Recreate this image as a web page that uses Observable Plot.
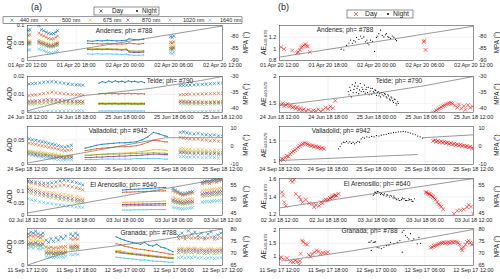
<!DOCTYPE html>
<html><head><meta charset="utf-8">
<script src="https://cdn.jsdelivr.net/npm/d3@7"></script>
<script src="https://cdn.jsdelivr.net/npm/@observablehq/plot@0.6"></script>
<style>
body{margin:0;background:#fff;}
#fig{position:relative;width:500px;height:279px;overflow:hidden;font-family:"Liberation Sans",Arial,sans-serif;}
#fig svg{position:absolute;}
</style></head><body><div id="fig"></div>
<script>
// ---------------- categories / ticks ----------------
const wavelengths = ["440 nm","500 nm","675 nm","870 nm","1020 nm","1640 nm"];
const hourTicks = [0,6,12,18,24];

// ---------------- Andenes ----------------
const andenesXTicks = ["01 Apr 20 12:00","01 Apr 20 18:00","02 Apr 20 00:00","02 Apr 20 06:00","02 Apr 20 12:00"];
const andenesDayA_t = [0.1,0.3,1.4,1.7,2.0,2.3,2.6,2.9,3.2,3.5,3.7];
const andenesDayA_aod = [
 [.086,.088,.1,.088,.085,.081,.078,.076,.077,.081,.085],
 [.072,.074,.078,.073,.070,.066,.063,.061,.062,.066,.070],
 [.055,.056,.058,.055,.053,.05,.048,.046,.047,.05,.053],
 [.05,.051,.053,.05,.048,.045,.043,.042,.043,.046,.048],
 [.046,.047,.049,.046,.044,.041,.039,.038,.039,.042,.044],
 [.03,.031,.032,.03,.028,.025,.023,.021,.022,.025,.028]];
const andenesNight_t = [7.4,8,8.6,9.2,9.8,10.4,11,11.6,12.2,12.5,13.1,13.7,14.3];
const andenesNight_aod = [
 [.056,.055,.057,.056,.058,.057,.056,.057,.058,.062,.06,.059,.061],
 [.049,.048,.048,.047,.049,.048,.047,.047,.048,.05,.048,.047,.049],
 [.034,.033,.034,.033,.034,.033,.033,.032,.033,.027,.026,.025,.026],
 [.032,.031,.032,.031,.032,.031,.031,.03,.031,.024,.023,.023,.024],
 [.033,.032,.033,.032,.033,.032,.032,.031,.032,.028,.027,.027,.028],
 [.019,.018,.019,.018,.019,.018,.018,.017,.018,.016,.015,.015,.016]];
const andenesDayB_t = [17.6,17.8,18.0];
const andenesDayB_aod = [[.068,.066,.07],[.052,.05,.053],[.04,.038,.041],[.035,.033,.036],[.033,.031,.034],[.022,.02,.023]];
const andenesAeDay_t = [0.2,0.55,1.57,2.19,2.31,2.52,2.68,2.81,3.01,3.22,3.34,3.5,3.75,17.86,17.9,18.07];
const andenesAeDay = [1.03,0.995,0.97,0.93,0.945,0.98,1.02,1.04,1.06,1.08,1.05,1.04,0.945,1.12,1.14,0.98];
const andenesAeNight_t = [7.63,7.96,8.3,8.58,8.79,9.0,9.2,9.4,9.53,9.82,10.02,10.2,10.43,10.64,10.8,10.93,11.06,11.26,11.5,11.76,12.0,12.15,12.29,12.5,12.71,12.91,13.1,13.24,13.4,13.53,13.75,13.95,14.15,14.36,14.48];
const andenesAeNight = [0.995,0.98,1.06,1.1,1.15,1.095,1.14,1.12,1.195,1.16,1.22,1.18,1.205,1.12,1.15,1.095,1.07,1.15,1.13,0.955,1.195,1.22,1.26,1.32,1.23,1.205,1.24,1.26,1.21,1.195,1.18,1.22,1.2,1.16,1.14];
const andenesMpaL_t = [0,12,24], andenesMpaL = [-88.8,-82.3,-75.7];
const andenesMpaR_t = [0,12,24], andenesMpaR = [-88.6,-82.2,-75.8];

// ---------------- Teide ----------------
const teideXTicks = ["24 Jun 18 12:00","24 Jun 18 18:00","25 Jun 18 00:00","25 Jun 18 06:00","25 Jun 18 12:00"];
const teideDayA_t = [0.2,0.6,1.0,1.5,2.0,2.5,3.0,3.5,4.0,4.5,5.0,5.5,6.0,6.4,6.8];
const teideDayA_aod = [
 [.0158,.016,.0162,.0165,.0168,.017,.0172,.017,.0166,.0162,.0159,.0156,.0154,.0153,.0152],
 [.0094,.0096,.0098,.0102,.0106,.011,.0113,.011,.0107,.0104,.0102,.01,.0099,.0099,.0098],
 [.0055,.0056,.0057,.0058,.006,.0062,.0063,.0062,.006,.0059,.0058,.0057,.0057,.0058,.0058],
 [.0062,.0063,.0064,.0066,.0069,.0071,.0072,.0071,.0069,.0067,.0065,.0063,.0062,.0062,.0061],
 [.0046,.0047,.0048,.005,.0052,.0054,.0055,.0054,.0052,.0051,.005,.0049,.0049,.005,.005],
 [.0002,.0002,.0003,.0004,.0005,.0006,.0007,.0007,.0008,.0008,.0009,.0009,.0009,.001,.001]];
const teideNight_t = [8.8,9.2,9.6,10,10.4,10.8,11.2,11.6,12,12.4,12.8,13.2,13.6,14,14.4];
const teideNight_aod = [
 [.0163,.0172,.0166,.0175,.0168,.0176,.017,.0174,.0167,.0176,.017,.0174,.0168,.0172,.0166],
 [.0104,.0106,.0103,.0107,.0104,.0106,.0103,.0106,.0104,.0107,.0104,.0106,.0103,.0105,.0103],
 [.0052,.0054,.0051,.0053,.0052,.0054,.0051,.0053,.0052,.0054,.0052,.0053,.0051,.0053,.0052],
 [.0049,.005,.0048,.005,.0049,.005,.0048,.005,.0049,.005,.0048,.0049,.0048,.0049,.0048],
 [.0046,.0047,.0045,.0047,.0046,.0047,.0045,.0046,.0046,.0047,.0045,.0046,.0045,.0046,.0045],
 [.0008,.0009,.0008,.0009,.0008,.0009,.0008,.0009,.0008,.0009,.0008,.0009,.0008,.0009,.0008]];
const teideDayB_t = [18.8,19.2,19.6,20,20.5,21,21.5,22,22.5,23,23.5,24];
const teideDayB_aod = [
 [.015,.0151,.0152,.0153,.0154,.0155,.0156,.0158,.016,.0161,.0163,.0164],
 [.0098,.0099,.01,.0101,.0101,.0102,.0103,.0104,.0105,.0106,.0107,.0107],
 [.0066,.0065,.0064,.0063,.0062,.0062,.0061,.0061,.006,.006,.0061,.0061],
 [.006,.0059,.0058,.0058,.0057,.0057,.0056,.0056,.0056,.0057,.0057,.0058],
 [.0049,.0048,.0048,.0047,.0047,.0047,.0046,.0046,.0047,.0047,.0048,.0048],
 [.0003,.0003,.0004,.0004,.0005,.0005,.0006,.0006,.0007,.0007,.0008,.0008]];
const teideAeDay_t = [0.2,0.4,0.6,0.8,1.0,1.2,1.4,1.6,1.8,2.0,2.2,2.4,2.6,2.8,3.0,3.3,3.6,3.9,4.2,4.5,4.8,5.1,5.4,5.7,6.0,6.3,6.6,6.9,
 19.0,19.2,19.4,19.6,19.8,20.0,20.2,20.4,20.6,20.8,21.0,21.2,21.4,21.7,22.0,22.2,22.5,22.8,23.0,23.3,23.6,23.9];
const teideAeDay = [1.48,1.5,1.45,1.47,1.49,1.44,1.46,1.42,1.44,1.4,1.43,1.38,1.41,1.37,1.39,1.36,1.38,1.35,1.37,1.36,1.39,1.35,1.38,1.42,1.4,1.44,1.41,1.55,
 1.33,1.35,1.37,1.39,1.41,1.43,1.45,1.46,1.48,1.49,1.5,1.51,1.5,1.46,1.42,1.48,1.4,1.45,1.38,1.47,1.42,1.44];
const teideAeNight_t = [8.5,8.6,8.7,8.8,8.9,9.0,9.1,9.2,9.3,9.4,9.5,9.6,9.7,9.8,9.9,10.0,10.1,10.2,10.3,10.4,10.5,10.6,10.7,10.8,10.9,11.0,11.1,11.2,11.3,11.4,11.5,11.6,11.7,11.8,11.9,12.0,12.1,12.2,12.3,12.4,12.5,12.6,12.7,12.8,12.9,13.0,13.1,13.2,13.3,13.4,13.5,13.6,13.7,13.8,13.9,14.0,14.1,14.2,14.3,14.4,14.5,14.6,14.7];
const teideAeNight = [1.72,1.66,1.8,1.74,1.62,1.85,1.7,1.76,1.82,1.88,1.7,1.78,1.82,1.68,1.75,1.87,1.72,1.8,1.76,1.72,1.84,1.69,1.76,1.8,1.7,1.8,1.66,1.73,1.78,1.67,1.78,1.72,1.7,1.75,1.74,1.65,1.7,1.72,1.64,1.68,1.62,1.7,1.66,1.7,1.64,1.68,1.67,1.62,1.6,1.66,1.64,1.58,1.56,1.62,1.6,1.55,1.52,1.58,1.57,1.5,1.47,1.53,1.5];
const teideMpaL_t = [0.1,6.9,15.1,21.3,24], teideMpaL = [-40.9,-36.1,-33.8,-31.3,-30];
const teideMpaR_t = [0,12.1,17.8,24], teideMpaR = [-39.2,-35.3,-33,-30];

// ---------------- Valladolid ----------------
const valladolidXTicks = ["24 Sep 18 12:00","24 Sep 18 18:00","25 Sep 18 00:00","25 Sep 18 06:00","25 Sep 18 12:00"];
const valladolidDayA_t = [0.2,0.6,1.0,1.4,1.8,2.2,2.6,3.0,3.4,3.8,4.2,4.6,5.0,5.4];
const valladolidDayA_aod = [
 [.052,.05,.049,.047,.046,.045,.043,.041,.04,.038,.036,.035,.037,.039],
 [.043,.042,.041,.039,.038,.037,.035,.034,.033,.031,.029,.028,.029,.03],
 [.028,.027,.026,.025,.024,.023,.022,.021,.02,.019,.018,.017,.018,.018],
 [.022,.021,.02,.019,.018,.018,.017,.016,.015,.015,.014,.013,.014,.014],
 [.025,.024,.023,.022,.021,.02,.019,.018,.018,.017,.016,.015,.016,.016],
 [.02,.019,.018,.016,.015,.014,.013,.012,.011,.01,.009,.009,.01,.01]];
const valladolidNight_t = [7.1,7.8,8.5,9.2,9.9,10.6,11.3,12,12.7,13.4,14.1,14.8,15.5,16.2,16.9,17.2];
const valladolidNight_aod = [
 [.033,.036,.039,.041,.042,.043,.044,.044,.045,.046,.05,.056,.065,.062,.058,.057],
 [.028,.03,.032,.033,.034,.035,.036,.036,.037,.038,.041,.045,.049,.048,.046,.046],
 [.018,.019,.02,.021,.022,.022,.023,.023,.024,.025,.026,.028,.03,.03,.029,.028],
 [.014,.014,.015,.015,.016,.016,.017,.017,.018,.018,.019,.02,.021,.021,.02,.02],
 [.019,.019,.02,.02,.021,.021,.021,.022,.022,.022,.023,.023,.024,.023,.023,.022],
 [.01,.01,.01,.011,.011,.011,.011,.011,.011,.012,.012,.012,.012,.012,.011,.011]];
const valladolidDayB_t = [18.8,19.2,19.6,20,20.5,21,21.5,22,22.5,23,23.5,24];
const valladolidDayB_aod = [
 [.065,.066,.064,.063,.062,.063,.061,.06,.059,.06,.058,.057],
 [.055,.054,.053,.052,.051,.052,.05,.049,.048,.049,.047,.046],
 [.032,.032,.031,.031,.03,.031,.03,.029,.029,.03,.029,.028],
 [.024,.024,.023,.023,.022,.023,.022,.022,.021,.022,.021,.021],
 [.027,.027,.026,.026,.025,.026,.025,.025,.024,.025,.024,.024],
 [.016,.016,.015,.015,.015,.015,.014,.014,.014,.014,.013,.013]];
const valladolidAeDay_t = [0.1,0.3,0.5,0.7,0.9,1.1,1.3,1.5,1.7,1.9,2.1,2.3,2.5,2.7,2.9,3.1,3.3,3.5,3.7,3.9,4.1,4.3,4.5,4.7,4.9,5.1,5.3,5.5,
 19.0,19.2,19.4,19.6,19.8,20.0,20.2,20.4,20.6,20.8,21.0,21.2,21.4,21.6,21.8,22.0,22.2,22.4,22.6,22.8,23.0,23.2,23.4,23.6,23.8,24.0];
const valladolidAeDay = [1.03,1.07,1.05,1.1,1.14,1.12,1.18,1.22,1.25,1.28,1.31,1.35,1.38,1.41,1.43,1.45,1.44,1.42,1.4,1.38,1.39,1.36,1.37,1.34,1.35,1.32,1.33,1.31,
 1.5,1.52,1.48,1.5,1.47,1.49,1.46,1.48,1.45,1.46,1.43,1.45,1.42,1.43,1.4,1.42,1.39,1.41,1.38,1.39,1.36,1.38,1.35,1.36,1.33,1.32];
const valladolidAeNight_t = [7.3,7.5,7.7,7.9,8.1,8.3,8.5,8.7,8.9,9.1,9.3,9.5,9.7,9.9,10.1,10.3,10.5,10.8,11.1,11.4,11.7,12.0,12.3,12.6,12.9,13.2,13.5,13.8,14.1,14.4,14.7,15.0,15.3,15.6,15.9,16.2,16.5,16.8,17.1,17.4,17.7];
const valladolidAeNight = [1.31,1.37,1.43,1.47,1.46,1.49,1.45,1.48,1.44,1.47,1.43,1.46,1.49,1.47,1.55,1.59,1.57,1.6,1.59,1.61,1.6,1.63,1.62,1.64,1.65,1.66,1.68,1.69,1.7,1.71,1.72,1.72,1.73,1.72,1.71,1.69,1.67,1.65,1.62,1.6,1.57];
const valladolidMpaL_t = [0.1,17,24], valladolidMpaL = [-9.1,4.8,4.8];
const valladolidMpaR_t = [0,17.1,17.8,24], valladolidMpaR = [-7.8,-4.5,4.8,6.4];
const valladolidMpaR_seg = [0,0,1,1];

// ---------------- El Arenosillo ----------------
const arenosilloXTicks = ["02 Jul 18 12:00","02 Jul 18 18:00","03 Jul 18 00:00","03 Jul 18 06:00","03 Jul 18 12:00"];
const arenosilloDayA_t = [0.1,0.5,1,1.5,2,2.5,3,3.5,4,4.5,5,5.5,6,6.4,6.8];
const arenosilloDayA_aod = [
 [.145,.142,.14,.138,.136,.135,.137,.14,.145,.148,.146,.142,.138,.133,.128],
 [.14,.136,.132,.128,.125,.122,.12,.122,.125,.127,.124,.12,.116,.112,.108],
 [.12,.115,.11,.105,.1,.097,.094,.092,.09,.088,.085,.082,.079,.076,.073],
 [.11,.105,.1,.095,.091,.088,.085,.082,.079,.076,.073,.07,.067,.065,.063],
 [.098,.093,.089,.085,.081,.078,.075,.072,.069,.066,.063,.061,.058,.056,.055],
 [.07,.066,.062,.058,.055,.052,.049,.046,.044,.042,.04,.038,.036,.035,.034]];
const arenosilloNight_t = [11.7,12.2,12.7,13.2,13.7,14.2,14.7,15.2,15.7,16.2,16.7,17.0];
const arenosilloNight_aod = [
 [.107,.108,.109,.11,.111,.112,.113,.114,.115,.116,.117,.117],
 [.097,.098,.098,.099,.1,.1,.101,.101,.102,.103,.103,.104],
 [.055,.055,.056,.056,.057,.057,.058,.058,.059,.059,.06,.06],
 [.046,.046,.047,.047,.047,.048,.048,.048,.049,.049,.049,.05],
 [.04,.04,.041,.041,.041,.042,.042,.042,.042,.043,.043,.043],
 [.023,.023,.023,.024,.024,.024,.024,.025,.025,.025,.025,.025]];
const arenosilloDayB_t = [17.9,18.2,18.5,18.8,19.1,19.4,19.7,20.0,20.3];
const arenosilloDayB_aod = [
 [.112,.106,.1,.094,.091,.092,.095,.098,.1],
 [.104,.099,.094,.089,.086,.087,.09,.092,.094],
 [.075,.072,.069,.066,.064,.065,.067,.069,.07],
 [.064,.061,.058,.056,.054,.055,.057,.058,.059],
 [.057,.054,.052,.05,.048,.049,.05,.051,.052],
 [.034,.032,.031,.029,.028,.029,.03,.031,.032]];
const arenosilloDayC_t = [21.5,21.8,22.1,22.4,22.7,23.0,23.3,23.6,23.9];
const arenosilloDayC_aod = [
 [.14,.143,.145,.142,.148,.15,.147,.152,.153],
 [.132,.136,.138,.135,.14,.143,.14,.145,.148],
 [.104,.106,.108,.107,.11,.112,.11,.114,.116],
 [.09,.092,.094,.093,.096,.098,.096,.1,.101],
 [.08,.082,.084,.083,.086,.087,.086,.089,.09],
 [.056,.058,.059,.058,.06,.062,.061,.063,.064]];
const arenosilloAeDay_t = [0.29,0.45,0.58,0.79,1.4,1.61,1.82,2.02,2.43,2.64,2.85,3.26,3.67,4.08,4.29,4.5,4.91,5.12,5.32,5.53,5.73,5.9,6.06,6.23,6.35,6.47,6.6,6.76,6.9,7.05,7.3,
 18.07,18.2,18.35,18.48,18.6,18.75,18.89,19.0,19.15,19.3,19.5,19.7,19.85,20.0,20.25,
 21.58,21.99,22.4,22.8,23.2,23.4,23.7,23.96];
const arenosilloAeDay = [1.455,1.417,1.34,1.3,1.59,1.57,1.595,1.436,1.4,1.37,1.34,1.37,1.33,1.32,1.285,1.31,1.3,1.34,1.33,1.36,1.37,1.36,1.37,1.39,1.38,1.4,1.41,1.417,1.42,1.417,1.436,
 1.455,1.45,1.44,1.436,1.43,1.42,1.41,1.4,1.385,1.37,1.34,1.32,1.305,1.29,1.26,
 1.21,1.245,1.25,1.26,1.285,1.31,1.29,1.21];
const arenosilloAeNight_t = [11.6,11.7,11.8,11.9,12.0,12.1,12.2,12.4,12.5,12.6,12.8,12.9,13.0,13.2,13.3,13.4,13.6,13.7,13.85,14.05,14.15,14.26,14.4,14.5,14.7,14.8,14.9,15.1,15.2,15.3,15.5,15.6,15.7,15.9,16.0,16.1,16.3,16.4,16.5,16.7];
const arenosilloAeNight = [1.417,1.43,1.455,1.45,1.44,1.46,1.46,1.45,1.43,1.44,1.43,1.42,1.436,1.41,1.43,1.42,1.4,1.42,1.41,1.39,1.41,1.39,1.38,1.37,1.38,1.36,1.36,1.37,1.39,1.38,1.38,1.36,1.36,1.36,1.38,1.37,1.37,1.35,1.35,1.38];
const arenosilloMpaL_t = [0,24], arenosilloMpaL = [45.2,57.5];
const arenosilloMpaR_t = [0,24], arenosilloMpaR = [47,57.5];

// ---------------- Granada ----------------
const granadaXTicks = ["11 Sep 17 12:00","11 Sep 17 18:00","12 Sep 17 00:00","12 Sep 17 06:00","12 Sep 17 12:00"];
const granadaDayA_t = [0.1,0.4,0.7,1.0,1.3,1.6,1.9,2.3,2.6,2.9,3.2,3.5,3.8,4.1,4.4,4.7,5.3,5.6,5.9,6.2];
const granadaDayA_aod = [
 [.068,.072,.07,.074,.069,.066,.07,.055,.05,.058,.052,.06,.055,.062,.058,.064,.068,.064,.07,.066],
 [.062,.065,.063,.066,.062,.06,.063,.04,.038,.04,.037,.039,.038,.04,.039,.041,.058,.056,.059,.057],
 [.054,.055,.054,.056,.053,.052,.054,.034,.032,.033,.031,.032,.031,.033,.032,.034,.044,.043,.045,.044],
 [.047,.048,.047,.049,.046,.045,.047,.028,.027,.028,.026,.027,.027,.028,.027,.029,.04,.039,.041,.04],
 [.044,.045,.044,.046,.043,.042,.044,.026,.025,.026,.024,.025,.025,.026,.025,.027,.036,.035,.037,.036],
 [.038,.04,.037,.041,.036,.035,.038,.019,.018,.019,.017,.018,.018,.019,.018,.02,.024,.023,.025,.024]];
const granadaNight_t = [10.9,11.4,11.9,12.4,12.9,13.4,13.9,14.4,14.9,15.4,15.9,16.4,16.9,17.4,17.9];
const granadaNight_aod = [
 [.062,.058,.055,.052,.05,.048,.046,.05,.044,.042,.046,.04,.038,.034,.03],
 [.047,.045,.042,.04,.038,.036,.035,.034,.032,.031,.03,.028,.027,.025,.024],
 [.033,.032,.03,.028,.027,.026,.025,.024,.023,.022,.021,.02,.019,.018,.017],
 [.03,.029,.027,.026,.025,.024,.023,.022,.021,.02,.019,.018,.017,.016,.016],
 [.028,.027,.026,.025,.024,.023,.022,.021,.02,.019,.018,.018,.017,.016,.015],
 [.018,.017,.016,.015,.014,.013,.012,.012,.011,.01,.009,.009,.008,.007,.007]];
const granadaDayB_t = [18.6,19.0,19.4,19.8,20.2,20.6,21.0,21.4,21.8,22.2,22.6,23.0,23.4,23.8];
const granadaDayB_aod = [
 [.065,.07,.062,.075,.068,.072,.064,.07,.06,.068,.073,.062,.066,.07],
 [.058,.06,.057,.061,.059,.06,.058,.06,.057,.059,.061,.057,.058,.06],
 [.037,.038,.036,.038,.037,.038,.036,.037,.035,.036,.037,.035,.036,.037],
 [.033,.034,.032,.034,.033,.034,.032,.033,.031,.032,.033,.031,.032,.033],
 [.028,.029,.027,.029,.028,.029,.027,.028,.026,.027,.028,.026,.027,.028],
 [.017,.018,.016,.018,.017,.018,.016,.017,.015,.016,.017,.015,.016,.017]];
const granadaAeDay_t = [0.04,0.21,0.54,0.95,1.36,1.69,1.98,2.19,2.39,2.52,2.6,2.8,2.93,3.22,3.42,3.63,3.84,4.04,4.33,4.58,4.87,5.07,5.4,5.69,5.98,
 18.7,18.9,19.1,19.3,19.5,19.7,19.9,20.1,20.3,20.5,20.7,20.9,21.1,21.3,21.5,21.7,21.9,22.1,22.3,22.5,22.6,22.8,23.0,23.2,23.4,23.6,23.8,24.0];
const granadaAeDay = [0.91,0.97,0.88,0.93,0.8,0.78,0.85,0.8,0.67,0.82,1.1,1.61,1.55,1.48,1.45,1.06,0.99,1.1,1.16,1.23,1.19,1.1,1.13,1.13,1.16,
 1.33,1.36,1.4,1.42,1.45,1.47,1.5,1.52,1.54,1.5,1.53,1.55,1.52,1.56,1.54,1.57,1.55,1.52,1.45,1.3,1.23,1.35,1.45,1.55,1.6,1.52,1.45,1.5];
const granadaAeNight_t = [11.06,11.2,11.35,11.6,11.75,11.88,12.09,12.3,12.59,12.92,13.25,13.53,13.74,14.15,14.56,14.89,15.18,15.39,15.59,15.8,16.0,16.21,16.42,16.62,17.04,17.24,17.45,11.35,15.18];
const granadaAeNight = [1.54,1.55,1.6,1.54,1.55,1.56,1.35,1.33,1.3,1.35,1.41,1.43,1.54,1.48,1.54,1.61,1.93,2.0,1.8,1.73,1.67,1.87,1.6,1.67,1.48,1.73,1.5,1.23,1.16];
const granadaMpaL_t = [0.1,4.9,11.1,17.2,24], granadaMpaL = [65.3,70.6,73.3,76.1,80.2];
const granadaMpaR_t = [0.7,8.8,17,24], granadaMpaR = [67,71,75.7,80];

// ---------------- panel configuration ----------------
const panels = [
 {title:"Andenes; ph= #788", xTicks:andenesXTicks, top:25, bottom:60,
  aodDomain:[0,0.1], aodTicks:[0,0.05,0.1], mpaDomain:[-90,-75.5], mpaTicks:[-90,-85,-80], aeDomain:[0.8,1.4], aeTicks:[0.8,1,1.2],
  day:[{t:andenesDayA_t,aod:andenesDayA_aod},{t:andenesDayB_t,aod:andenesDayB_aod}], night:[{t:andenesNight_t,aod:andenesNight_aod}],
  aeDay:[andenesAeDay_t,andenesAeDay], aeNight:[andenesAeNight_t,andenesAeNight], mpaL:[andenesMpaL_t,andenesMpaL], mpaR:[andenesMpaR_t,andenesMpaR],
  tl:[124,33], tr:[345,32]},
 {title:"Teide; ph= #790", xTicks:teideXTicks, top:76, bottom:112,
  aodDomain:[0,0.02], aodTicks:[0,0.01,0.02], mpaDomain:[-41.5,-30], mpaTicks:[-40,-35,-30], aeDomain:[1.33,2.0], aeTicks:[1.5,2],
  day:[{t:teideDayA_t,aod:teideDayA_aod},{t:teideDayB_t,aod:teideDayB_aod}], night:[{t:teideNight_t,aod:teideNight_aod}],
  aeDay:[teideAeDay_t,teideAeDay], aeNight:[teideAeNight_t,teideAeNight], mpaL:[teideMpaL_t,teideMpaL], mpaR:[teideMpaR_t,teideMpaR],
  tl:[170,83], tr:[399,83]},
 {title:"Valladolid; ph= #942", xTicks:valladolidXTicks, top:126, bottom:164,
  aodDomain:[0,0.077], aodTicks:[0,0.05], mpaDomain:[-10,11], mpaTicks:[-10,0,10], aeDomain:[0.93,1.85], aeTicks:[1,1.5],
  day:[{t:valladolidDayA_t,aod:valladolidDayA_aod},{t:valladolidDayB_t,aod:valladolidDayB_aod}], night:[{t:valladolidNight_t,aod:valladolidNight_aod}],
  aeDay:[valladolidAeDay_t,valladolidAeDay], aeNight:[valladolidAeNight_t,valladolidAeNight], mpaL:[valladolidMpaL_t,valladolidMpaL], mpaR:[valladolidMpaR_t,valladolidMpaR,valladolidMpaR_seg],
  tl:[118,133], tr:[341,133]},
 {title:"El Arenosillo; ph= #640", xTicks:arenosilloXTicks, top:178, bottom:215,
  aodDomain:[0,0.155], aodTicks:[0,0.05,0.1], mpaDomain:[44.3,57.5], mpaTicks:[45,50,55], aeDomain:[1.19,1.61], aeTicks:[1.2,1.4,1.6],
  day:[{t:arenosilloDayA_t,aod:arenosilloDayA_aod},{t:arenosilloDayB_t,aod:arenosilloDayB_aod},{t:arenosilloDayC_t,aod:arenosilloDayC_aod}], night:[{t:arenosilloNight_t,aod:arenosilloNight_aod}],
  aeDay:[arenosilloAeDay_t,arenosilloAeDay], aeNight:[arenosilloAeNight_t,arenosilloAeNight], mpaL:[arenosilloMpaL_t,arenosilloMpaL], mpaR:[arenosilloMpaR_t,arenosilloMpaR],
  tl:[123.5,187], tr:[377,186]},
 {title:"Granada; ph= #788", xTicks:granadaXTicks, top:228, bottom:265,
  aodDomain:[0,0.08], aodTicks:[0,0.05], mpaDomain:[65,80.4], mpaTicks:[65,70,75,80], aeDomain:[0.65,2.07], aeTicks:[1,1.5,2],
  day:[{t:granadaDayA_t,aod:granadaDayA_aod},{t:granadaDayB_t,aod:granadaDayB_aod}], night:[{t:granadaNight_t,aod:granadaNight_aod}],
  aeDay:[granadaAeDay_t,granadaAeDay], aeNight:[granadaAeNight_t,granadaAeNight], mpaL:[granadaMpaL_t,granadaMpaL], mpaR:[granadaMpaR_t,granadaMpaR],
  tl:[148.5,235], tr:[369.5,233]}
];

// ---------------- styles ----------------
const wlColors = ["#0072BD","#D95319","#EDB120","#7E2F8E","#77AC30","#4DBEEE"];
const FONT = '"Liberation Sans", Arial, sans-serif';
const INK = "#262626";
const MPA_COLOR = "#6e6e6e";
const fig = document.getElementById("fig");

function aodRows(segs){
  const rows = [];
  segs.forEach((s,si)=>s.aod.forEach((vals,wi)=>vals.forEach((v,i)=>rows.push({t:s.t[i], v, wl:wavelengths[wi], seg:si*10+wi}))));
  return rows;
}
function ptRows([t,v,seg]){ return t.map((d,i)=>({t:d, v:v[i], seg: seg ? seg[i] : 0})); }
function place(svg,left,top){ svg.style.left=left+"px"; svg.style.top=top+"px"; fig.appendChild(svg); }
const baseStyle = {fontFamily:FONT, fontSize:"5.5px", color:"#1a1a1a", background:"transparent", overflow:"visible"};
const fmt = d => String(d);

panels.forEach(p=>{
  const mt = 4, mb = 12, fh = p.bottom - p.top, H = mt + fh + mb;
  const xOpt = {domain:[0,24], ticks:hourTicks, tickFormat:d=>p.xTicks[hourTicks.indexOf(d)], tickSize:0, tickPadding:3.0, label:null};
  const gridX = Plot.gridX([6,12,18], {stroke:"#000", strokeOpacity:0.1, strokeWidth:0.5});
  // ---- left: AOD ----
  const dayRows = aodRows(p.day), nightRows = aodRows(p.night);
  const left = Plot.plot({
    width:250, height:H, marginLeft:27, marginRight:28, marginTop:mt, marginBottom:mb, style:baseStyle,
    x:xOpt, y:{domain:p.aodDomain, ticks:p.aodTicks, tickFormat:fmt, tickSize:0, tickPadding:3.2, label:null},
    color:{domain:wavelengths, range:wlColors},
    marks:[
      gridX,
      Plot.gridY(p.aodTicks, {stroke:"#000", strokeOpacity:0.1, strokeWidth:0.5}),
      Plot.line(nightRows, {x:"t", y:"v", z:"seg", stroke:"wl", strokeWidth:0.8, clip:true}),
      Plot.dot(nightRows, {x:"t", y:"v", fill:"wl", r:0.6, clip:true}),
      Plot.dot(dayRows, {x:"t", y:"v", stroke:"wl", symbol:"times", r:1.5, strokeWidth:0.65, clip:true}),
      Plot.frame({stroke:INK, strokeWidth:0.5})
    ]
  });
  place(left, 0, p.top - mt);
  const leftMpa = Plot.plot({
    width:250, height:H, marginLeft:27, marginRight:28, marginTop:mt, marginBottom:mb, style:baseStyle,
    x:{domain:[0,24], axis:null},
    y:{domain:p.mpaDomain, ticks:p.mpaTicks, axis:"right", tickFormat:fmt, tickSize:0, tickPadding:8, label:null},
    marks:[Plot.line(ptRows(p.mpaL), {x:"t", y:"v", z:"seg", stroke:MPA_COLOR, strokeWidth:0.7, clip:true})]
  });
  place(leftMpa, 0, p.top - mt);
  // ---- right: AE ----
  const right = Plot.plot({
    width:250, height:H, marginLeft:29, marginRight:27, marginTop:mt, marginBottom:mb, style:baseStyle,
    x:xOpt, y:{domain:p.aeDomain, ticks:p.aeTicks, tickFormat:fmt, tickSize:0, tickPadding:3.2, label:null},
    marks:[
      gridX,
      Plot.gridY(p.aeTicks, {stroke:"#000", strokeOpacity:0.1, strokeWidth:0.5}),
      Plot.dot(ptRows(p.aeNight), {x:"t", y:"v", fill:"#000", r:0.6, clip:true}),
      Plot.dot(ptRows(p.aeDay), {x:"t", y:"v", stroke:"#ff0000", symbol:"times", r:1.9, strokeWidth:0.55, clip:true}),
      Plot.frame({stroke:INK, strokeWidth:0.5})
    ]
  });
  place(right, 250, p.top - mt);
  const rightMpa = Plot.plot({
    width:250, height:H, marginLeft:29, marginRight:27, marginTop:mt, marginBottom:mb, style:baseStyle,
    x:{domain:[0,24], axis:null},
    y:{domain:p.mpaDomain, ticks:p.mpaTicks, axis:"right", tickFormat:fmt, tickSize:0, tickPadding:5, label:null},
    marks:[Plot.line(ptRows(p.mpaR), {x:"t", y:"v", z:"seg", stroke:MPA_COLOR, strokeWidth:0.7, clip:true})]
  });
  place(rightMpa, 250, p.top - mt);
});

// ---------------- overlay: labels, titles, legends ----------------
const ov = d3.select(fig).append("svg").attr("width",500).attr("height",279)
  .style("left","0px").style("top","0px").style("pointer-events","none")
  .attr("font-family", FONT).attr("fill", INK);

ov.append("text").attr("x",31).attr("y",9.5).attr("font-size",9).text("(a)");
ov.append("text").attr("x",278).attr("y",9.5).attr("font-size",9).text("(b)");

function cross(g,x,y,s,color,sw){
  g.append("path").attr("d",`M${x-s},${y-s}L${x+s},${y+s}M${x-s},${y+s}L${x+s},${y-s}`).attr("stroke",color).attr("stroke-width",sw).attr("fill","none");
}
// left Day/Night legend
ov.append("rect").attr("x",94).attr("y",7).attr("width",65).attr("height",8).attr("fill","#fff").attr("stroke",INK).attr("stroke-width",0.5);
cross(ov,101,11,1.5,"#000",0.6);
ov.append("text").attr("x",112).attr("y",13.2).attr("font-size",6.3).text("Day");
ov.append("circle").attr("cx",137).attr("cy",11).attr("r",0.9).attr("fill","#000");
ov.append("text").attr("x",142).attr("y",13.2).attr("font-size",6.3).text("Night");
// wavelength legend
ov.append("rect").attr("x",3).attr("y",16.8).attr("width",239).attr("height",6.7).attr("fill","#fff").attr("stroke",INK).attr("stroke-width",0.5);
const wlMarkX = [12,46,90,128,170,210], wlTextX = [20,62,103,142,183,220];
wavelengths.forEach((w,i)=>{
  cross(ov, wlMarkX[i], 20.1, 1.5, wlColors[i], 0.6);
  ov.append("text").attr("x",wlTextX[i]).attr("y",22.1).attr("font-size",5.5).text(w);
});
// right Day/Night legend
ov.append("rect").attr("x",347).attr("y",10).attr("width",66).attr("height",8).attr("fill","#fff").attr("stroke",INK).attr("stroke-width",0.5);
cross(ov,356,14,2,"#ff0000",0.6);
ov.append("text").attr("x",365).attr("y",16.4).attr("font-size",6.8).text("Day");
ov.append("circle").attr("cx",388).attr("cy",14).attr("r",1).attr("fill","#000");
ov.append("text").attr("x",393).attr("y",16.4).attr("font-size",6.8).text("Night");

// axis labels and titles
panels.forEach(p=>{
  const cy = (p.top + p.bottom)/2;
  ov.append("text").attr("transform",`translate(11.8,${cy}) rotate(-90)`).attr("text-anchor","middle").attr("font-size",6.5).text("AOD");
  ov.append("text").attr("transform",`translate(248,${cy}) rotate(-90)`).attr("text-anchor","middle").attr("font-size",6.3).text("MPA (°)");
  const ae = ov.append("text").attr("transform",`translate(265.5,${cy}) rotate(-90)`).attr("text-anchor","middle").attr("font-size",6.8);
  ae.append("tspan").text("AE");
  ae.append("tspan").attr("font-size",4.3).attr("dy",1.8).text("440-870");
  ov.append("text").attr("transform",`translate(499,${cy}) rotate(-90)`).attr("text-anchor","middle").attr("font-size",6.3).text("MPA (°)");
  ov.append("text").attr("x",p.tl[0]).attr("y",p.tl[1]).attr("text-anchor","middle").attr("font-size",6.5).text(p.title);
  ov.append("text").attr("x",p.tr[0]).attr("y",p.tr[1]).attr("text-anchor","middle").attr("font-size",6.5).text(p.title);
});
</script></body></html>
